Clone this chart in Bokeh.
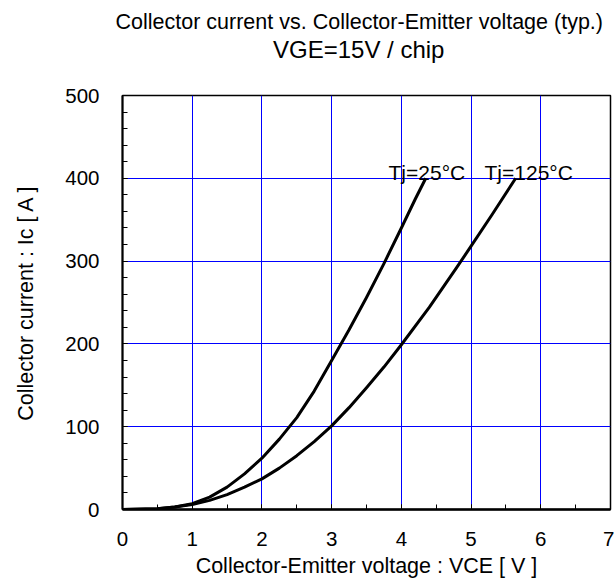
from bokeh.plotting import figure
from bokeh.models import Title, FixedTicker, Range1d
from bokeh.core.properties import value
from bokeh.embed import file_html
from bokeh.resources import INLINE

# ---- data ----
vce_25 = [0, 0.5, 0.75, 1.0, 1.25, 1.5, 1.75, 2.0, 2.25, 2.5, 2.75, 3.0, 3.25, 3.5, 3.75, 4.0, 4.2, 4.35]
ic_25 = [0, 1, 3, 7, 15, 27, 43, 62, 85, 111, 143, 180, 217, 256, 297, 340, 375, 400]

vce_125 = [0, 0.5, 0.75, 1.0, 1.25, 1.5, 1.75, 2.0, 2.25, 2.5, 2.75, 3.0, 3.25, 3.5, 3.75, 4.0, 4.4, 4.8, 5.0, 5.3, 5.64]
ic_125 = [0, 1, 3, 6, 11, 18, 27, 37, 50, 65, 82, 101, 123, 147, 172, 199, 244, 293, 318, 356, 400]

series_labels = ["Tj=25°C", "Tj=125°C"]
label_x = [3.816, 5.193]
label_y = [407, 407]

x_ticks = [0, 1, 2, 3, 4, 5, 6, 7]
x_minor = [0.5 * i for i in range(15)]
y_ticks = [0, 100, 200, 300, 400, 500]
y_minor = list(range(0, 501, 20))

title_1 = "Collector current vs. Collector-Emitter voltage (typ.)"
title_2 = "VGE=15V / chip"
x_label = "Collector-Emitter voltage : VCE [ V ]"
y_label = "Collector current : Ic [ A ]"

FONT = "Liberation Sans"

p = figure(width=614, height=580, x_range=Range1d(0, 7), y_range=Range1d(0, 500),
           output_backend="svg", toolbar_location=None, title=None,
           min_border_left=122, min_border_right=4, min_border_top=95, min_border_bottom=71)

# spacer between the frame and the two title lines (closest to the frame)
p.add_layout(Title(text=" ", text_font=FONT, text_font_size="1px", standoff=30), "above")
p.add_layout(Title(text=title_2, align="left", offset=150.5, text_font=FONT,
                   text_font_size="24px", text_font_style="normal", text_color="black",
                   standoff=0), "above")
p.add_layout(Title(text=title_1, align="left", offset=-7, text_font=FONT,
                   text_font_size="21.5px", text_font_style="normal", text_color="black",
                   standoff=0), "above")

p.outline_line_color = "black"
p.outline_line_width = 1.5

for ax in (p.xaxis[0], p.yaxis[0]):
    ax.major_tick_in = 5
    ax.major_tick_out = 0
    ax.minor_tick_in = 5
    ax.minor_tick_out = 0
    ax.major_tick_line_color = "black"
    ax.minor_tick_line_color = "black"
    ax.axis_line_color = "black"
    ax.axis_line_width = 2
    ax.major_label_text_font = FONT
    ax.major_label_text_font_size = "20.5px"
    ax.major_label_text_color = "black"
    ax.axis_label_text_font = FONT
    ax.axis_label_text_font_size = "21.5px"
    ax.axis_label_text_font_style = "normal"
    ax.axis_label_text_color = "black"

p.xaxis.ticker = FixedTicker(ticks=x_ticks, minor_ticks=x_minor)
p.yaxis.ticker = FixedTicker(ticks=y_ticks, minor_ticks=y_minor)
p.xaxis.axis_label = x_label
p.yaxis.axis_label = y_label
p.xaxis.major_label_standoff = 22
p.yaxis.major_label_standoff = 23
p.xaxis.axis_label_standoff = 5
p.yaxis.axis_label_standoff = 24
p.xaxis.axis_line_width = 2.5

p.xgrid.ticker = FixedTicker(ticks=x_ticks)
p.ygrid.ticker = FixedTicker(ticks=y_ticks)
p.grid.grid_line_color = "#0000ff"
p.grid.grid_line_width = 1
p.grid.grid_line_alpha = 1.0

p.line(vce_25, ic_25, line_color="black", line_width=3, line_join="round")
p.line(vce_125, ic_125, line_color="black", line_width=3, line_join="round")

p.text(x=label_x, y=label_y, text=series_labels, text_font=value(FONT),
       text_font_size="21px", text_align="left", text_baseline="alphabetic",
       text_color="black")

open("out.html", "w").write(file_html(p, INLINE))
